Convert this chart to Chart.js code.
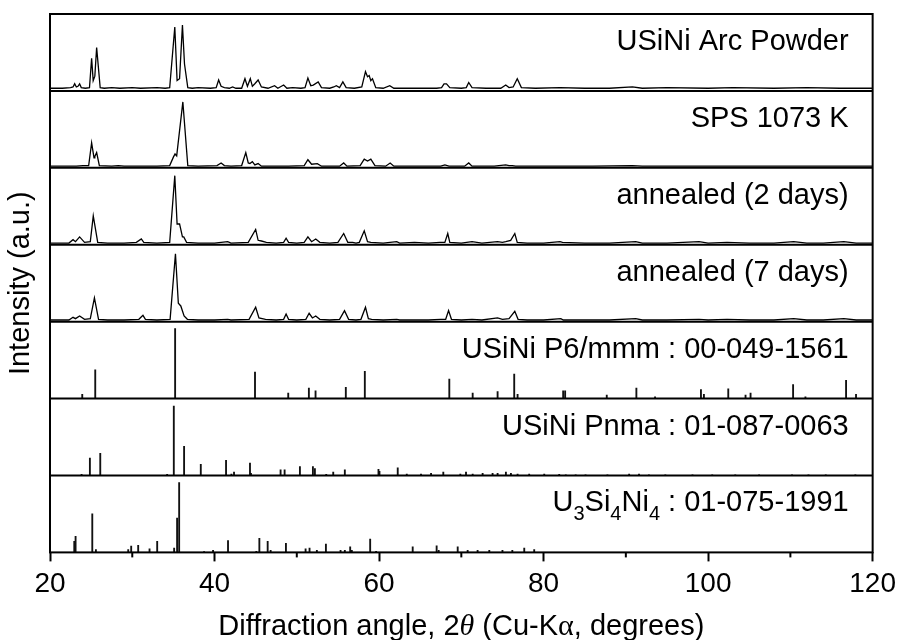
<!DOCTYPE html>
<html>
<head>
<meta charset="utf-8">
<script src="https://cdn.jsdelivr.net/npm/chart.js@4/dist/chart.umd.min.js"></script>
<style>
  html, body { margin: 0; padding: 0; background: #fff; }
  #wrap { width: 902px; height: 640px; position: relative; }
</style>
</head>
<body>
<div id="wrap"><canvas id="c" width="902" height="640"></canvas></div>
<script>
// ---------------- DATA (2θ in degrees, relative intensity in a.u.) ----------------
const panelLabels = [
  "USiNi Arc Powder",
  "SPS 1073 K",
  "annealed (2 days)",
  "annealed (7 days)",
  "USiNi P6/mmm : 00-049-1561",
  "USiNi Pnma : 01-087-0063",
  "U_3Si_4Ni_4 : 01-075-1991"
];
const xTickValues = [20, 40, 60, 80, 100, 120];
const xMinorTicks = [30, 50, 70, 90, 110];

// measured patterns [2θ, intensity]
const arcPowder = [
  [20,1],[21.5,1],[22.5,2],[22.8,3],[23.0,8],[23.2,3],[23.4,4],[23.6,8],[23.8,2],[24.3,1],
  [24.8,2],[25.06,48],[25.25,13],[25.45,20],[25.67,65],[26.1,2],[26.6,1],[27.5,2],[28.5,1],[30,2],[31,1],[33,2],[34.0,1],
  [34.55,2],[35.17,97],[35.45,13],[35.75,16],[36.1,100],[36.35,39],[36.75,2],[37.3,1],[38,2],[39.5,1],
  [40.2,2],[40.5,14],[40.8,4],[41.2,2],[41.8,1],[42.2,3],[42.6,1],[43.3,1],
  [43.7,16],[44.0,4],[44.35,16],[44.6,4],[44.9,8],[45.3,14],[45.7,3],[46.5,1],[47.3,5],[47.7,1],[48.4,6],[48.8,1],[49.5,2],[50.5,1],
  [51.0,2],[51.35,17],[51.7,5],[52.0,6],[52.6,11],[53.0,2],[54.0,1],[54.5,3],[54.8,5],[55.2,2],[55.6,11],[56.0,2],[57,1],
  [57.9,3],[58.35,27],[58.6,19],[58.8,21],[59.0,13],[59.2,16],[59.6,2],[60.5,1],[61.3,5],[61.8,1],[63,1],[65,1],[67,1],
  [67.6,2],[67.9,8],[68.2,8],[68.6,2],[70.0,1],[70.6,2],[70.9,10],[71.3,2],[73,1],[74.8,1],[75.4,6],[75.8,2],[76.3,3],[76.8,16],[77.3,2],
  [79,1],[82,2],[85,1],[88,1],[90.8,3],[92,1],[95,2],[100,1],[103,2],[108,1],[112,2],[116,1],[120,1]
];
const sps1073 = [
  [20,1],[22,1],[23.2,1],[24.0,2],[24.7,2],[25.06,37],[25.35,14],[25.45,16],[25.67,22],[26.0,2],[27.5,1],[28.3,2],[29,1],[31,1],[33,1],
  [34.55,2],[35.0,15],[35.2,20],[35.4,17],[36.15,100],[36.75,2],[38,1],[40.3,2],[40.8,6],[41.2,2],[42,1],
  [43.3,2],[43.8,22],[44.1,6],[44.3,5],[44.6,8],[44.9,3],[45.3,5],[45.7,1],[47,1],[49,1],
  [50.9,2],[51.35,11],[51.8,4],[52.5,5],[53,1],[55.2,1],[55.7,6],[56.1,1],[57.7,2],[58.2,12],[58.6,9],[59.0,12],[59.5,2],
  [60.8,1],[61.35,6],[61.8,1],[64,1],[67.5,1],[68,3],[68.5,1],[70.4,1],[70.9,6],[71.3,1],[74,1],[75.4,3],[75.8,2],[76.2,2],[76.6,1],
  [80,1],[86,1],[90.8,2],[92,1],[100,1],[110,1],[120,1]
];
const annealed2d = [
  [20,1],[22.3,1],[22.8,6],[23.1,3],[23.6,10],[24.2,2],[24.9,3],[25.26,41],[25.8,2],[27,1],[29,1],[30.5,2],[31.1,7],[31.4,2],[33,1],
  [34.55,2],[35.17,100],[35.45,29],[35.75,29],[36.1,10],[36.26,10],[36.6,2],[38,1],[40,1],[41.6,3],[42,1],
  [44.1,2],[45.0,21],[45.3,5],[45.7,4],[46.3,2],[47.5,1],[48.4,2],[48.7,8],[49.0,2],[50.0,1],
  [50.9,2],[51.35,10],[51.8,3],[52.3,7],[52.8,2],[54,1],[55.0,2],[55.7,15],[56.2,2],[56.8,2],[57.2,1],
  [57.6,2],[58.2,19],[58.6,3],[59.0,2],[60.5,1],[62.15,3],[62.5,1],[64.3,2],[66,1],[67.4,2],[68.0,2],[68.35,15],[68.6,2],
  [70,1],[71.3,3],[72.5,1],[74.4,3],[75.0,2],[75.4,3],[76.0,5],[76.5,15],[76.8,2],[78,1],[80,1],
  [82.0,3],[82.3,2],[85,1],[88,1],[91.2,3],[92,1],[95,1],[98.9,3],[100,1],[102.3,2],[105,1],[108,1],[110.4,3],[112,1],[114,1],[116.5,3],[118,1],[120,1]
];
const annealed7d = [
  [20,1],[22.3,1],[22.8,5],[23.1,3],[23.6,7],[24.2,2],[24.9,3],[25.4,34],[25.9,2],[27,1],[29,1],[30.8,2],[31.3,8],[31.6,2],[33,1],
  [34.6,2],[35.25,100],[35.6,26],[35.9,22],[36.3,7],[36.7,2],[38,1],[40,1],[41.6,2],[42,1],
  [44.2,2],[45.0,20],[45.4,4],[46.2,2],[47.5,1],[48.4,2],[48.7,10],[49.0,2],[50.0,1],
  [51.1,2],[51.5,11],[51.9,4],[52.3,7],[52.8,2],[54,1],[55.2,2],[55.8,15],[56.3,2],[57.2,1],
  [57.8,2],[58.35,20],[58.7,3],[59.1,2],[60.5,1],[62.15,2],[62.5,1],[64.3,1],[66,1],[67.5,2],[68.1,2],[68.45,15],[68.8,2],
  [70,1],[71.3,2],[72.5,1],[74.4,4],[75.0,2],[75.8,3],[76.5,14],[76.9,2],[78,1],[80,1],
  [82.1,3],[82.4,1],[85,1],[88,1],[91.2,3],[92,1],[95,1],[98.9,2],[100,1],[102.3,2],[105,1],[108,1],[110.4,3],[112,1],[114,1],[116.5,3],[118,1],[120,1]
];

// reference stick patterns [2θ, I/I0 %]
const refP6mmm = [
  [23.92,6],[25.50,41],[35.21,100],[44.92,38],[48.96,8],[51.47,15],[52.28,11],[55.96,16],[58.27,39],
  [68.54,28],[71.38,8],[74.41,10],[76.43,35],[76.84,6],[82.38,11],[82.62,11],[87.68,5],[91.28,15],[93.55,2.5],
  [99.13,13],[99.49,6],[102.45,14],[104.55,5],[105.16,8],[110.33,20],[111.83,2.5],[116.77,26],[117.98,6]
];
const refPnma = [
  [23.84,1.5],[24.85,25],[26.11,32],[34.24,1.5],[35.05,100],[36.30,42],[38.33,16],[41.40,22],[42.05,2],[42.37,5],
  [44.31,18],[44.43,3],[48.03,8],[48.52,8],[50.38,13],[51.96,13],[52.20,10],[53.58,1.5],[54.43,5],[55.84,8],
  [59.93,9],[60.05,6],[62.27,11],[63.37,2],[65.10,2],[66.32,3],[67.81,5],[69.88,2],[70.57,5],
  [71.38,2],[72.59,3],[73.80,3],[74.41,3],[75.42,5],[76.03,3],[76.84,2],[78.25,2],[80.08,2],[81.90,1.5],
  [82.70,1],[83.90,1],[85.10,1],[87.76,1],[90.40,2],[91.60,2],[92.80,1],[94.80,1],[98.10,1],[100.5,1],
  [103.3,1],[106.2,1],[110.2,1],[112.2,1],[114.3,1],[117.9,1]
];
const refU3Si4Ni4 = [
  [22.95,16],[23.11,23],[25.14,55],[25.58,4],[29.51,4],[29.87,9],[30.72,10],[32.10,5],[33.03,16],[35.09,6],
  [35.45,49],[35.70,100],[38.73,1],[39.82,3],[41.64,17],[45.08,1.5],[45.45,20],[46.46,16],[46.82,3],[48.68,13],
  [51.07,5],[51.55,6],[52.44,3],[53.54,12],[55.32,3],[55.84,3],[56.49,8],[56.69,3],[58.92,19],[59.64,1.5],
  [64.09,8],[67.00,9.5],[67.25,3],[69.56,8],[70.77,3],[71.98,3],[73.40,3],[75.00,3],[76.20,3],[77.65,6],[78.86,4]
];

// y-range of each panel (top to bottom)
const panelMin = [-3.2, -1.5, -1.5, -1.5, 0, 0, 0];
const panelMax = [117.5, 117, 111.5, 113.5, 110, 111, 110];

// ---------------- CHART ----------------
const FONT = "'Liberation Sans', Arial, Helvetica, sans-serif";
const panelIds = ['p0','p1','p2','p3','p4','p5','p6'];
const toXY = arr => arr.map(([x, y]) => ({x, y}));

function lineDs(data, axis) {
  return { type: 'line', data: toXY(data), yAxisID: axis, xAxisID: 'x',
    borderColor: '#000', borderWidth: 1.3, pointRadius: 0, tension: 0, fill: false };
}
function stickDs(data, axis) {
  return { type: 'bar', data: toXY(data), yAxisID: axis, xAxisID: 'x',
    backgroundColor: '#111', borderWidth: 0, barThickness: 1.2, grouped: false };
}

const scales = {
  x: {
    type: 'linear', position: 'bottom', min: 20, max: 120, offset: false,
    border: { display: false },
    grid: { display: true, drawOnChartArea: false, drawTicks: true, tickLength: 9,
            tickColor: '#000', tickWidth: 2, offset: false },
    ticks: { stepSize: 20, color: '#000', padding: 6, maxRotation: 0,
             font: { family: FONT, size: 28 } },
    afterBuildTicks: s => { s.ticks = xTickValues.map(v => ({ value: v })); }
  }
};
// defined bottom-up so that p0 ends at the top of the stack
for (let i = panelIds.length - 1; i >= 0; i--) {
  scales[panelIds[i]] = {
    type: 'linear', position: 'left', stack: 'xrd', stackWeight: 1, offset: false,
    min: panelMin[i], max: panelMax[i], display: false
  };
}

const framePlugin = {
  id: 'frame',
  afterDatasetsDraw(chart) {
    const { ctx, chartArea: a } = chart;
    ctx.save();
    ctx.strokeStyle = '#000';
    ctx.lineWidth = 2;
    ctx.strokeRect(a.left, a.top, a.right - a.left, a.bottom - a.top);
    panelIds.forEach(id => {
      const s = chart.scales[id];
      if (Math.abs(s.bottom - a.bottom) < 1) return;
      ctx.beginPath(); ctx.moveTo(a.left, s.bottom); ctx.lineTo(a.right, s.bottom); ctx.stroke();
    });
    const xs = chart.scales.x;
    xMinorTicks.forEach(v => {
      const px = xs.getPixelForValue(v);
      ctx.beginPath(); ctx.moveTo(px, a.bottom); ctx.lineTo(px, a.bottom + 5); ctx.stroke();
    });
    ctx.restore();
  }
};

function drawRich(ctx, label, right, baseline, size) {
  // split "U_3Si_4" into normal / subscript segments
  const segs = [];
  const re = /_(\d)/g; let last = 0, m;
  while ((m = re.exec(label)) !== null) {
    if (m.index > last) segs.push({ t: label.slice(last, m.index), sub: false });
    segs.push({ t: m[1], sub: true });
    last = m.index + m[0].length;
  }
  if (last < label.length) segs.push({ t: label.slice(last), sub: false });
  const subSize = Math.round(size * 0.68);
  let total = 0;
  segs.forEach(s => { ctx.font = `${s.sub ? subSize : size}px ${FONT}`; s.w = ctx.measureText(s.t).width; total += s.w; });
  let x = right - total;
  segs.forEach(s => {
    ctx.font = `${s.sub ? subSize : size}px ${FONT}`;
    ctx.fillText(s.t, x, baseline + (s.sub ? size * 0.28 : 0));
    x += s.w;
  });
}

const textPlugin = {
  id: 'texts',
  afterDraw(chart) {
    const { ctx, chartArea: a } = chart;
    ctx.save();
    ctx.fillStyle = '#000';
    ctx.textAlign = 'left';
    ctx.textBaseline = 'alphabetic';
    panelIds.forEach((id, i) => {
      const s = chart.scales[id];
      drawRich(ctx, panelLabels[i], a.right - 24, s.top + 36, 29);
    });
    // y title
    ctx.save();
    ctx.translate(29, (a.top + a.bottom) / 2);
    ctx.rotate(-Math.PI / 2);
    ctx.textAlign = 'center';
    ctx.font = `29px ${FONT}`;
    ctx.fillText('Intensity (a.u.)', 0, 0);
    ctx.restore();
    // x title with italic theta
    const parts = [
      { t: 'Diffraction angle, 2', f: `29px ${FONT}` },
      { t: 'θ', f: `italic 30px 'Liberation Serif', 'Times New Roman', serif` },
      { t: ' (Cu-K', f: `29px ${FONT}` },
      { t: 'α', f: `30px 'Liberation Serif', 'Times New Roman', serif` },
      { t: ', degrees)', f: `29px ${FONT}` }
    ];
    let tw = 0;
    parts.forEach(p => { ctx.font = p.f; p.w = ctx.measureText(p.t).width; tw += p.w; });
    let x = (a.left + a.right) / 2 - tw / 2;
    const yb = a.bottom + 83;
    parts.forEach(p => { ctx.font = p.f; ctx.fillText(p.t, x, yb); x += p.w; });
    ctx.restore();
  }
};

new Chart(document.getElementById('c'), {
  type: 'line',
  data: {
    datasets: [
      lineDs(arcPowder, 'p0'),
      lineDs(sps1073, 'p1'),
      lineDs(annealed2d, 'p2'),
      lineDs(annealed7d, 'p3'),
      stickDs(refP6mmm, 'p4'),
      stickDs(refPnma, 'p5'),
      stickDs(refU3Si4Ni4, 'p6')
    ]
  },
  options: {
    responsive: false,
    devicePixelRatio: 1,
    animation: false,
    layout: { padding: { left: 50, right: 26, top: 14, bottom: 33 } },
    plugins: { legend: { display: false }, tooltip: { enabled: false } },
    scales
  },
  plugins: [framePlugin, textPlugin]
});
</script>
</body>
</html>
